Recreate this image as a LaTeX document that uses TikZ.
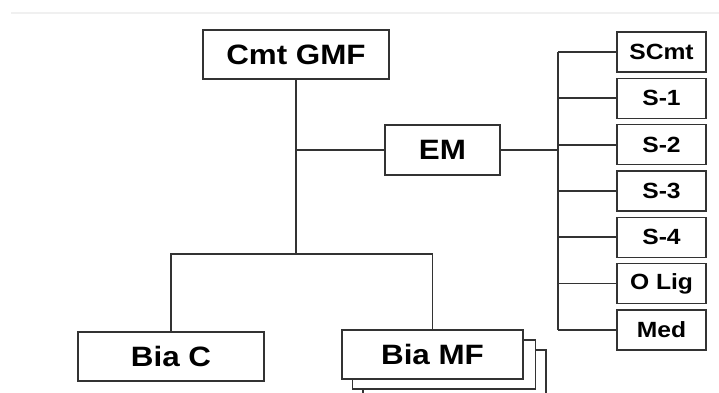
\documentclass[tikz,border=0pt]{standalone}
\usepackage{fontspec}
\setmainfont[FakeStretch=1.12]{Liberation Sans}
\usepackage{tikz}
\usetikzlibrary{positioning}
\definecolor{linegray}{HTML}{333333}
\tikzset{
	link/.style={line width=1.9pt, draw=linegray},
	unit nodes/.style={
		rectangle,
		draw=linegray,
		line width=1.4pt,
		fill=white,
		align=center,
		inner sep=0pt,
		outer sep=0pt,
		font=\fontsize{28}{30}\selectfont\bfseries
	},
	big unit/.style={unit nodes, minimum width=186pt, minimum height=49pt},
	staff unit/.style={unit nodes, minimum width=89pt, minimum height=40pt,
		font=\fontsize{22}{24}\selectfont\bfseries}
}

\begin{document}
\begin{tikzpicture}[x=1pt, y=-1pt]
	\useasboundingbox (0,0) rectangle (719,392);
	\clip (0,0) rectangle (719,392);
	% faint rule at the top
	\draw[gray!12, line width=1.5pt] (11,13) -- (719,13);

	\node[big unit] (cmt) at (296,54.5) {Cmt GMF};
	\node[unit nodes, minimum width=115pt, minimum height=50pt] (em) at (442.5,150) {EM};
	\node[big unit] (biac) at (171,356.5) {Bia C};

	% stacked copies behind Bia MF
	\node[big unit, minimum width=183pt] (biamf2) at (454.5,374.5) {};
	\node[big unit, minimum width=183pt] (biamf1) at (444,364.5) {};
	\node[big unit, minimum width=181pt] (biamf) at (432.5,354.5) {Bia MF};

	% staff column
	\foreach \lbl [count=\i from 0] in {SCmt, S-1, S-2, S-3, S-4, O Lig, Med}
		\node[staff unit] (s\i) at (661.5, 52+46.3*\i) {\lbl};

	\coordinate (split) at (296,254);
	\coordinate (bus) at (558,150);

	\draw[link] (cmt.south) -- (split);
	\draw[link] (cmt.south |- em.west) -- (em.west);
	\draw[link] (biac.north) |- (split) -| (biamf.north);
	\draw[link] (em.east) -- (bus);
	\draw[link] (bus |- s0.west) -- (bus |- s6.west);
	\foreach \i in {0,...,6}
		\draw[link] (bus |- s\i.west) -- (s\i.west);
\end{tikzpicture}
\end{document}
